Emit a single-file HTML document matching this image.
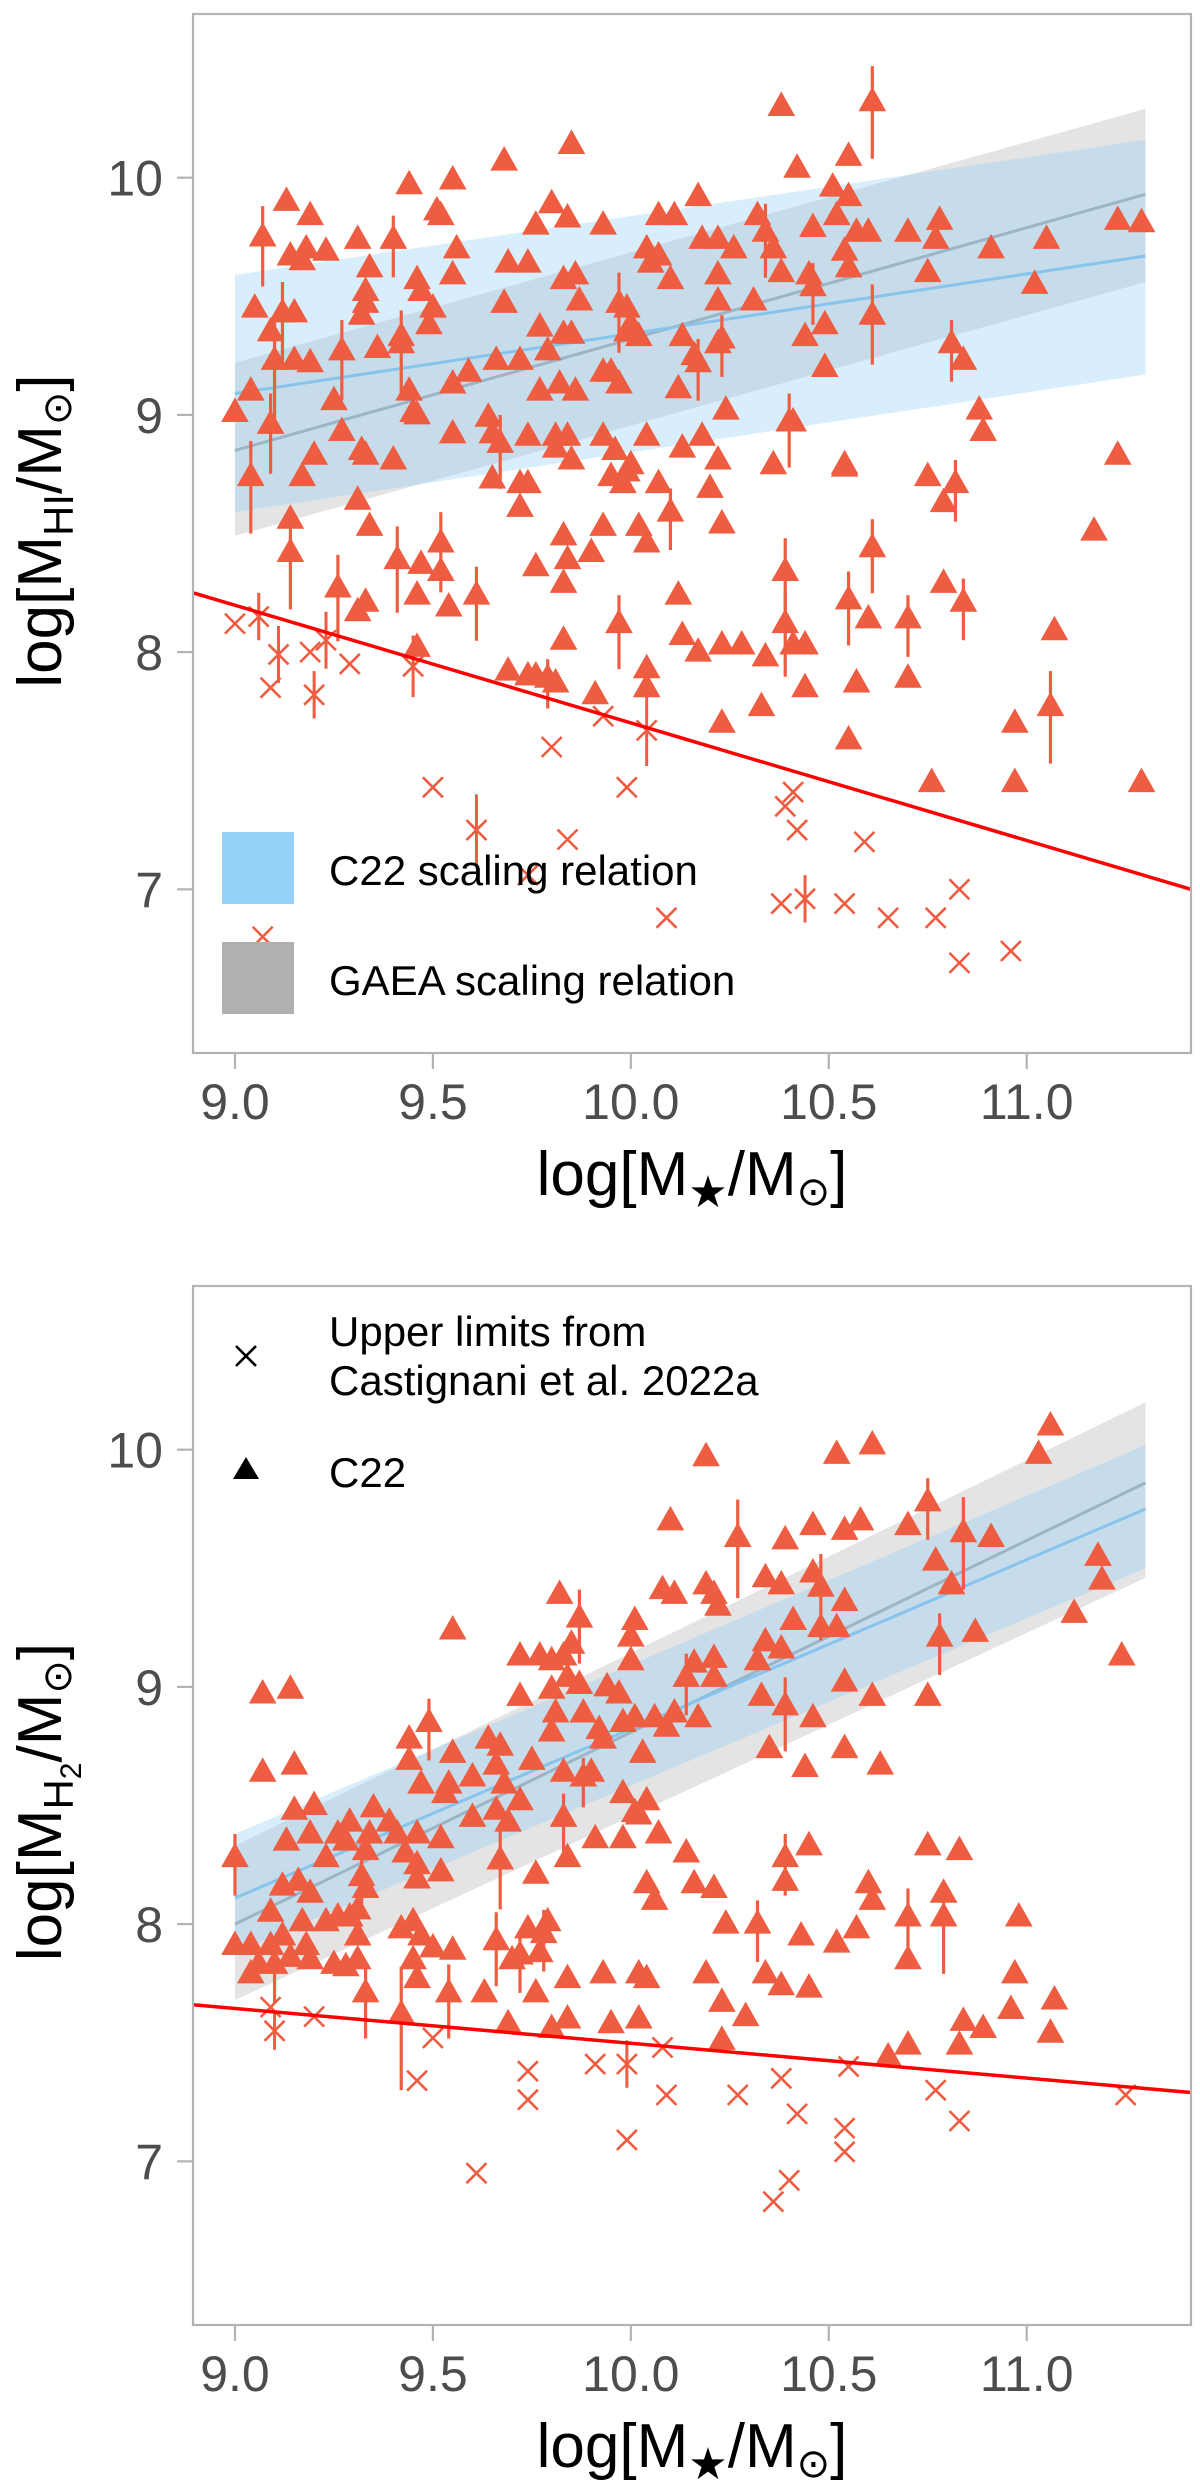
<!DOCTYPE html>
<html><head><meta charset="utf-8">
<style>
html,body{margin:0;padding:0;background:#fff;}
svg{display:block;font-family:"Liberation Sans",Arial,sans-serif;}
</style></head>
<body>
<svg id="fig" width="1200" height="2492" viewBox="0 0 1200 2492" xmlns="http://www.w3.org/2000/svg"></svg>
<script>
// ---------- axis ticks ----------
const xTicks = [9.0, 9.5, 10.0, 10.5, 11.0];
const xTickLabels = ["9.0", "9.5", "10.0", "10.5", "11.0"];
const yTicks = [7, 8, 9, 10];
const yTickLabels = ["7", "8", "9", "10"];

// ---------- top panel (HI) ----------
const hiTriX = [10.38,10.61,9.85,9.68,9.44,9.55,10.42,10.55,9.13,9.19,9.8,9.84,9.93,10.17,10.07,10.11,10.32,10.51,10.55,10.78,10.7,10.46,10.52,10.57,10.6,11.23,11.29,10.91,11.05,11.02,10.75,10.77,10.61,9.07,9.14,9.17,9.18,9.23,9.31,9.4,9.51,9.52,9.56,9.55,9.34,9.46,9.47,9.5,9.49,9.05,9.15,9.12,9.33,9.33,9.09,9.1,9.15,9.19,9.27,9.32,9.36,9.42,9.42,9.44,9.45,9.46,9.0,9.04,9.09,9.04,9.14,9.14,9.17,9.2,9.25,9.27,9.32,9.33,9.4,9.31,9.34,9.26,9.31,9.33,9.41,9.46,9.47,9.52,9.52,9.54,9.61,9.46,9.55,9.55,9.59,9.64,9.65,9.66,9.67,9.68,9.69,9.72,9.74,9.76,9.74,9.77,9.79,9.77,9.83,9.86,9.87,9.85,9.83,9.82,9.86,9.81,9.84,9.85,9.81,9.65,9.72,9.74,9.72,9.76,9.83,9.84,9.83,9.9,9.93,9.93,9.95,9.97,9.97,9.99,10.0,10.02,10.04,10.05,10.07,10.1,10.13,10.12,10.16,10.17,10.22,10.23,10.18,10.22,10.26,10.22,10.22,10.31,10.34,10.36,10.38,10.45,10.46,10.44,10.49,10.49,10.54,10.55,10.4,10.41,10.24,10.18,10.13,10.22,10.04,9.96,9.95,9.99,9.98,10.0,10.07,10.1,10.2,10.23,10.02,10.04,10.36,10.54,10.54,10.75,10.82,10.79,10.88,10.89,10.81,10.84,11.23,11.17,10.61,10.39,10.39,10.44,10.41,10.55,10.6,10.7,10.79,10.84,10.44,10.57,10.7,10.55,10.76,10.97,10.97,11.07,11.06,11.29,10.33,10.23,10.34,10.28,10.23,10.17,10.13,10.12,10.04,10.04,9.97,9.83,9.91,9.81,9.79,9.76,9.74,9.69,9.93,9.99];
const hiTriY = [10.30,10.32,10.14,10.07,9.97,9.99,10.04,10.09,9.9,9.84,9.89,9.83,9.8,9.92,9.84,9.84,9.84,9.96,9.92,9.82,9.77,9.79,9.84,9.77,9.77,9.82,9.81,9.7,9.74,9.55,9.6,9.74,9.42,9.75,9.67,9.65,9.7,9.69,9.74,9.74,9.86,9.84,9.7,9.59,9.62,9.57,9.52,9.45,9.38,9.45,9.43,9.43,9.52,9.47,9.35,9.23,9.23,9.22,9.27,9.42,9.28,9.3,9.33,9.1,9.01,9.0,9.01,9.1,8.96,8.74,8.42,8.56,8.74,8.83,9.06,8.93,8.85,8.83,8.81,8.64,8.53,8.27,8.17,8.21,8.39,8.24,8.37,8.46,8.34,8.19,8.24,8.02,9.13,8.92,9.18,8.99,8.92,9.23,8.88,9.47,9.64,9.23,8.91,9.8,9.64,9.37,9.27,9.1,9.57,9.59,9.48,9.34,9.34,9.13,9.1,8.91,8.91,8.81,8.86,8.73,8.71,8.71,8.61,8.36,8.49,8.39,8.29,8.42,8.53,8.91,9.18,9.13,9.47,9.45,9.38,9.33,9.7,9.64,9.67,9.57,9.33,9.11,9.25,9.22,9.3,9.32,9.74,9.74,9.7,9.59,9.48,9.48,9.77,9.7,9.6,9.59,9.54,9.33,9.38,9.2,9.69,9.62,8.97,8.97,9.02,8.91,8.86,8.81,8.91,8.85,8.74,8.76,8.71,8.79,8.71,8.59,8.69,8.54,8.53,8.46,8.79,8.79,8.78,8.74,8.71,8.63,9.02,8.93,9.3,9.23,8.83,8.51,8.44,8.34,8.12,8.03,8.03,8.22,8.14,8.14,8.29,8.21,7.85,7.87,7.89,7.63,7.45,7.45,7.7,8.09,7.77,7.45,7.77,7.7,7.98,8.03,8.03,8.0,8.07,8.24,7.93,7.85,8.12,8.05,7.82,7.87,7.89,7.9,7.9,7.92,9.18,9.35];
const hiTriErr = [
0,0.15,0,0,0,0,0,0,0,0,
0,0,0,0,0,0,0,0,0,0,
0,0,0,0,0,0,0,0,0,0,
0,0,0.13,0.13,0,0,0,0,0,0.1,
0,0,0,0,0,0,0,0,0,0,
0,0.13,0,0,0,0.16,0,0,0.13,0,
0,0.14,0,0,0,0,0,0,0.13,0.15,
0.15,0,0,0,0,0,0,0,0,0,
0,0.14,0,0,0.14,0,0,0.13,0,0,
0.12,0,0,0,0,0,0,0,0.12,0,
0,0,0,0,0,0,0,0,0,0,
0,0,0,0,0,0,0,0,0,0,
0,0,0,0,0,0,0,0,0,0,
0,0,0.13,0,0,0,0,0,0,0,
0,0,0,0.1,0,0.1,0,0,0,0,
0,0,0.12,0,0,0,0.1,0,0,0,
0,0,0.12,0,0,0,0,0,0,0,
0,0,0,0,0,0.1,0,0,0,0,
0,0,0,0,0.1,0,0,0,0.1,0,
0,0,0.12,0.14,0.14,0,0,0.12,0,0.1,
0,0.1,0,0,0,0,0,0,0,0,
0.15,0,0,0,0,0,0,0,0,0,
0,0,0.12,0,0,0,0.08,0,0,0,
0,0];
const hiXx = [9.0,9.06,9.11,9.09,9.19,9.2,9.23,9.29,9.45,9.5,9.61,9.74,9.8,9.84,9.93,9.99,10.04,10.09,10.38,10.39,10.41,10.42,10.44,10.54,10.59,10.65,10.77,10.83,10.83,10.96,9.07];
const hiXy = [8.12,8.15,7.99,7.85,8.0,7.82,8.05,7.95,7.94,7.43,7.25,7.06,7.6,7.21,7.73,7.43,7.67,6.88,6.94,7.35,7.41,7.25,6.96,6.94,7.2,6.88,6.88,7.0,6.69,6.74,6.80];
const hiXErr = [0,0.1,0.12,0,0,0.1,0.12,0,0.13,0,0.15,0,0,0,0,0,0.15,0,0,0,0,0,0.1,0,0,0,0,0,0,0,0];
const hiC22Band = {x:[9.0,11.3], lo:[8.59,9.17], hi:[9.59,10.16], mid:[9.09,9.67]};
const hiGaeaBand = {x:[9.0,11.3], lo:[8.49,9.56], hi:[9.22,10.29], mid:[8.85,9.93]};
const hiLimitLine = {x:[8.894,11.415], y:[8.25,7.0]};

// ---------- bottom panel (H2) ----------
const h2TriX = [11.06,11.03,10.61,10.52,10.19,10.1,10.27,10.39,10.46,10.54,10.58,10.7,10.75,10.84,10.91,11.18,11.19,11.12,11.24,10.87,10.78,10.77,10.81,10.75,10.54,10.46,10.48,10.41,10.34,10.38,10.48,10.52,10.54,10.61,10.54,10.63,10.46,10.44,10.39,10.35,10.34,10.32,10.38,10.33,10.22,10.21,10.19,10.11,10.08,10.16,10.14,10.21,10.21,10.17,10.11,10.09,10.06,10.03,10.01,10.0,10.0,9.97,9.94,9.92,9.93,9.98,10.01,9.82,9.87,9.85,9.83,9.8,9.77,9.72,9.72,9.8,9.84,9.87,9.88,9.81,9.8,9.75,9.67,9.66,9.64,9.6,9.55,9.54,9.53,9.47,9.44,9.44,9.49,9.55,9.68,9.72,9.83,9.88,9.9,9.83,9.84,9.91,9.98,9.98,10.01,10.04,10.07,10.02,10.04,10.06,10.14,10.16,10.21,10.24,10.32,10.39,10.39,10.45,10.43,10.52,10.57,10.6,10.61,10.75,10.83,10.79,10.7,10.79,10.7,10.98,10.97,10.96,11.07,11.06,10.84,10.83,10.89,10.7,10.65,10.19,10.23,10.29,10.34,10.38,10.45,10.23,10.02,10.04,10.02,9.95,9.93,9.84,9.84,9.8,9.76,9.69,9.63,9.76,9.78,9.79,9.77,9.74,9.72,9.7,9.66,9.67,9.69,9.66,9.6,9.55,9.54,9.5,9.47,9.45,9.46,9.45,9.42,9.46,9.46,9.52,9.52,9.46,9.43,9.41,9.39,9.35,9.34,9.33,9.32,9.33,9.31,9.29,9.26,9.28,9.23,9.19,9.2,9.15,9.15,9.07,9.07,9.14,9.13,9.12,9.16,9.19,9.17,9.23,9.26,9.29,9.31,9.25,9.31,9.33,9.28,9.19,9.18,9.14,9.12,9.09,9.09,9.1,9.06,9.04,9.04,9.0,9.0,9.42];
const h2TriY = [10.1,9.98,10.02,9.98,9.97,9.7,9.63,9.62,9.68,9.66,9.7,9.68,9.78,9.65,9.63,9.55,9.45,9.31,9.13,9.23,9.21,9.53,9.43,8.96,9.36,9.48,9.42,9.28,9.46,9.43,9.25,9.25,9.02,8.96,8.74,8.67,8.87,8.66,8.92,8.74,9.19,9.11,9.16,8.96,9.34,9.39,9.43,9.39,9.41,9.1,9.04,9.12,9.04,8.87,8.89,8.83,8.87,8.72,9.28,9.21,9.11,8.97,9.0,8.82,8.78,8.85,8.87,9.39,9.29,9.18,9.13,9.11,9.13,9.13,8.96,8.99,9.04,9.01,8.89,8.89,8.81,8.69,8.75,8.67,8.78,8.62,8.72,8.59,8.55,8.59,8.69,8.78,8.85,9.24,8.59,8.52,8.64,8.62,8.64,8.45,8.28,8.36,8.36,8.55,8.47,8.52,8.38,8.46,8.17,8.1,8.3,8.17,8.15,8.0,8.0,8.28,8.18,8.33,7.95,7.92,7.98,8.17,8.1,8.33,8.31,8.13,8.03,8.03,7.85,8.03,7.79,7.64,7.68,7.54,7.59,7.49,7.56,7.49,7.44,7.79,7.67,7.61,7.79,7.74,7.73,7.51,7.79,7.77,7.6,7.58,7.79,7.6,7.77,7.56,7.71,7.58,7.71,8.21,7.96,8.01,7.88,7.98,7.87,7.85,7.93,8.27,8.43,8.48,8.45,7.89,7.71,7.9,7.95,7.85,7.77,8.01,7.98,8.19,8.25,8.22,8.36,8.38,8.3,8.38,8.43,8.49,8.38,8.31,8.2,8.15,8.06,8.43,8.38,8.35,8.28,8.38,8.5,8.48,8.67,8.64,8.97,8.99,8.35,8.16,8.18,8.13,8.01,8.01,8.03,8.03,7.95,7.83,7.85,7.71,7.82,7.85,7.91,7.86,7.95,8.05,7.91,7.83,7.83,7.91,7.79,7.91,8.28,7.62];
const h2TriErr = [0,0,0,0,0,0,0.16,0,0,0,0,0,0.1,0.15,0,0,0,0,0,0,0.1,0,0,0,0,0,0.14,0,0,0,0,0,0,0,0,0,0,0,0.12,0,0,0,0,0,0,0,0,0,0,0,0.1,0,0,0,0,0,0,0,0,0,0,0,0,0,0,0,0,0,0.12,0,0,0,0,0,0,0,0,0,0,0,0,0,0,0,0,0,0,0,0,0,0,0,0.1,0,0,0,0,0.08,0,0.1,0,0,0,0,0,0,0,0,0,0,0,0,0,0,0.1,0.1,0,0,0,0,0,0,0,0,0,0,0.12,0.15,0,0,0,0,0,0,0,0,0,0,0,0,0,0,0,0,0,0,0,0,0,0,0,0,0,0,0,0,0,0,0.1,0,0,0,0.1,0,0.12,0.13,0,0,0,0,0.12,0,0,0,0,0,0,0,0,0,0,0,0,0,0,0,0,0,0.1,0,0,0,0,0,0,0,0,0,0,0,0,0,0,0,0,0,0,0,0,0,0,0,0,0.12,0,0,0,0,0,0,0,0.1,0,0,0,0,0.1,0.2];
const h2Xx = [9.09,9.1,9.2,9.46,9.5,9.61,9.74,9.74,9.91,9.99,9.99,10.08,10.09,10.27,10.36,10.38,10.4,10.42,10.54,10.54,10.55,10.77,10.83,11.25];
const h2Xy = [7.65,7.55,7.61,7.34,7.52,6.95,7.38,7.26,7.41,7.41,7.09,7.48,7.28,7.28,6.83,7.35,6.92,7.2,7.14,7.04,7.4,7.3,7.17,7.28];
const h2XErr = [0,0.08,0,0,0,0,0,0,0,0.1,0,0,0,0,0,0,0,0,0,0,0,0,0,0];
const h2C22Band = {x:[9.0,11.3], lo:[7.88,9.5], hi:[8.38,10.02], mid:[8.11,9.75]};
const h2GaeaBand = {x:[9.0,11.3], lo:[7.68,9.46], hi:[8.33,10.2], mid:[8.0,9.86]};
const h2LimitLine = {x:[8.894,11.415], y:[7.66,7.29]};

// ---------- drawing ----------
const NS = "http://www.w3.org/2000/svg";
const svg = document.getElementById('fig');
const RED = "#ee5d41";
function mk(tag, attrs, parent){
  const e = document.createElementNS(NS, tag);
  for (const k in attrs) e.setAttribute(k, attrs[k]);
  (parent||svg).appendChild(e);
  return e;
}
function makeScale(d0,d1,r0,r1){ return v => r0 + (v-d0)/(d1-d0)*(r1-r0); }

function drawPanel(cfg){
  const g = mk('g', {});
  
  
  const L=193, R=1191, T=cfg.top, B=cfg.top+1039;
  const sx = makeScale(8.894, 11.415, L, R);
  const sy = makeScale(6.31, 10.69, B, T);

  function band(b, fill, op, lineCol, nm){
    const poly = mk('polygon', {points:
      `${sx(b.x[0])},${sy(b.hi[0])} ${sx(b.x[1])},${sy(b.hi[1])} ${sx(b.x[1])},${sy(b.lo[1])} ${sx(b.x[0])},${sy(b.lo[0])}`,
      fill:fill, 'fill-opacity':op}, g);
    
    
    const ln = mk('line', {x1:sx(b.x[0]), y1:sy(b.mid[0]), x2:sx(b.x[1]), y2:sy(b.mid[1]), stroke:lineCol, 'stroke-width':3}, g);
    
    
  }
  band(cfg.gaea, "#b3b3b3", 0.35, "#a0a8ae", 'gaea-scaling');
  band(cfg.c22, "#8fcdf5", 0.35, "#86c4ee", 'c22-scaling');

  for (let i=0;i<cfg.xx.length;i++){
    const cx=sx(cfg.xx[i]), cy=sy(cfg.xy[i]), s=10;
    const c = mk('g', {stroke:RED, 'stroke-width':2.6}, g);
    
    
    mk('line', {x1:cx-s,y1:cy-s,x2:cx+s,y2:cy+s}, c);
    mk('line', {x1:cx-s,y1:cy+s,x2:cx+s,y2:cy-s}, c);
    if (cfg.xerr[i]>0) mk('line', {x1:cx,y1:sy(cfg.xy[i]+cfg.xerr[i]),x2:cx,y2:sy(cfg.xy[i]-cfg.xerr[i]), 'stroke-width':3}, c);
  }
  for (let i=0;i<cfg.tx.length;i++){
    const cx=sx(cfg.tx[i]), cy=sy(cfg.ty[i]);
    const t = mk('g', {fill:RED, stroke:RED}, g);
    
    
    if (cfg.terr[i]>0) mk('line', {x1:cx,y1:sy(cfg.ty[i]+cfg.terr[i]),x2:cx,y2:sy(cfg.ty[i]-cfg.terr[i]*1.6),'stroke-width':3.2}, t);
    mk('polygon', {points:`${cx},${cy-14} ${cx+13},${cy+9} ${cx-13},${cy+9}`, 'stroke-width':1}, t);
  }
  const ll = mk('line', {x1:sx(cfg.line.x[0]), y1:sy(cfg.line.y[0]), x2:sx(cfg.line.x[1]), y2:sy(cfg.line.y[1]), stroke:"#ff0000", 'stroke-width':3.5}, g);
  
  

  const fr = mk('rect', {x:L, y:T, width:R-L, height:B-T, fill:'none', stroke:'#b3b3b3', 'stroke-width':2.2}, g);
  
  
  xTicks.forEach((v,i)=>{
    mk('line', {x1:sx(v),y1:B,x2:sx(v),y2:B+16,stroke:'#b3b3b3','stroke-width':2.2}, g);
    const t = mk('text', {x:sx(v), y:B+66, 'text-anchor':'middle', 'font-size':50, fill:'#4d4d4d'}, g);
    t.textContent = xTickLabels[i];
    
    
  });
  yTicks.forEach((v,i)=>{
    mk('line', {x1:L-16,y1:sy(v),x2:L,y2:sy(v),stroke:'#b3b3b3','stroke-width':2.2}, g);
    const t = mk('text', {x:163, y:sy(v)+18, 'text-anchor':'end', 'font-size':50, fill:'#4d4d4d'}, g);
    t.textContent = yTickLabels[i];
    
    
  });
  const xt = mk('text', {x:692, y:B+142, 'text-anchor':'middle', 'font-size':62, fill:'#000'}, g);
  
  
  xt.innerHTML = 'log[M<tspan font-size="44" dy="12">★</tspan><tspan dy="-12">/M</tspan><tspan font-size="40" dy="10">⊙</tspan><tspan dy="-10">]</tspan>';
  const yt = mk('text', {x:0, y:0, 'text-anchor':'middle', 'font-size':62, fill:'#000', transform:`translate(61,${cfg.ytitleY}) rotate(-90)`}, g);
  
  
  yt.innerHTML = cfg.ytitle;
}

drawPanel({name:'hi-panel', top:14, c22:hiC22Band, gaea:hiGaeaBand, line:hiLimitLine,
  tx:hiTriX, ty:hiTriY, terr:hiTriErr, xx:hiXx, xy:hiXy, xerr:hiXErr, ytitleY:531,
  ytitle:'log[M<tspan font-size="42" dy="12">HI</tspan><tspan dy="-12">/M</tspan><tspan font-size="40" dy="10">⊙</tspan><tspan dy="-10">]</tspan>'});
drawPanel({name:'h2-panel', top:1286, c22:h2C22Band, gaea:h2GaeaBand, line:h2LimitLine,
  tx:h2TriX, ty:h2TriY, terr:h2TriErr, xx:h2Xx, xy:h2Xy, xerr:h2XErr, ytitleY:1802,
  ytitle:'log[M<tspan font-size="42" dy="12">H<tspan font-size="30" dy="8">2</tspan></tspan><tspan dy="-20">/M</tspan><tspan font-size="40" dy="10">⊙</tspan><tspan dy="-10">]</tspan>'});

// ---------- legends ----------
const lg1 = mk('g', {});


const lb = mk('rect', {x:222,y:832,width:72,height:72,fill:'#95d0f8'}, lg1);


const lgy = mk('rect', {x:222,y:942,width:72,height:72,fill:'#b0b0b0'}, lg1);


const lt1 = mk('text', {x:329,y:885,'font-size':42,fill:'#000'}, lg1);
lt1.textContent = 'C22 scaling relation';


const lt2 = mk('text', {x:329,y:995,'font-size':42,fill:'#000'}, lg1);
lt2.textContent = 'GAEA scaling relation';



const lg2 = mk('g', {});


const lx = mk('g', {stroke:'#000','stroke-width':2.6}, lg2);


mk('line', {x1:236,y1:1346,x2:256,y2:1366}, lx);
mk('line', {x1:236,y1:1366,x2:256,y2:1346}, lx);
const ltri = mk('polygon', {points:'246,1457 259,1479 233,1479', fill:'#000'}, lg2);


const lt3 = mk('text', {x:329,y:1346,'font-size':42,fill:'#000'}, lg2);
lt3.textContent = 'Upper limits from';


const lt4 = mk('text', {x:329,y:1395,'font-size':42,fill:'#000'}, lg2);
lt4.textContent = 'Castignani et al. 2022a';


const lt5 = mk('text', {x:329,y:1487,'font-size':42,fill:'#000'}, lg2);
lt5.textContent = 'C22';


</script>
</body></html>
